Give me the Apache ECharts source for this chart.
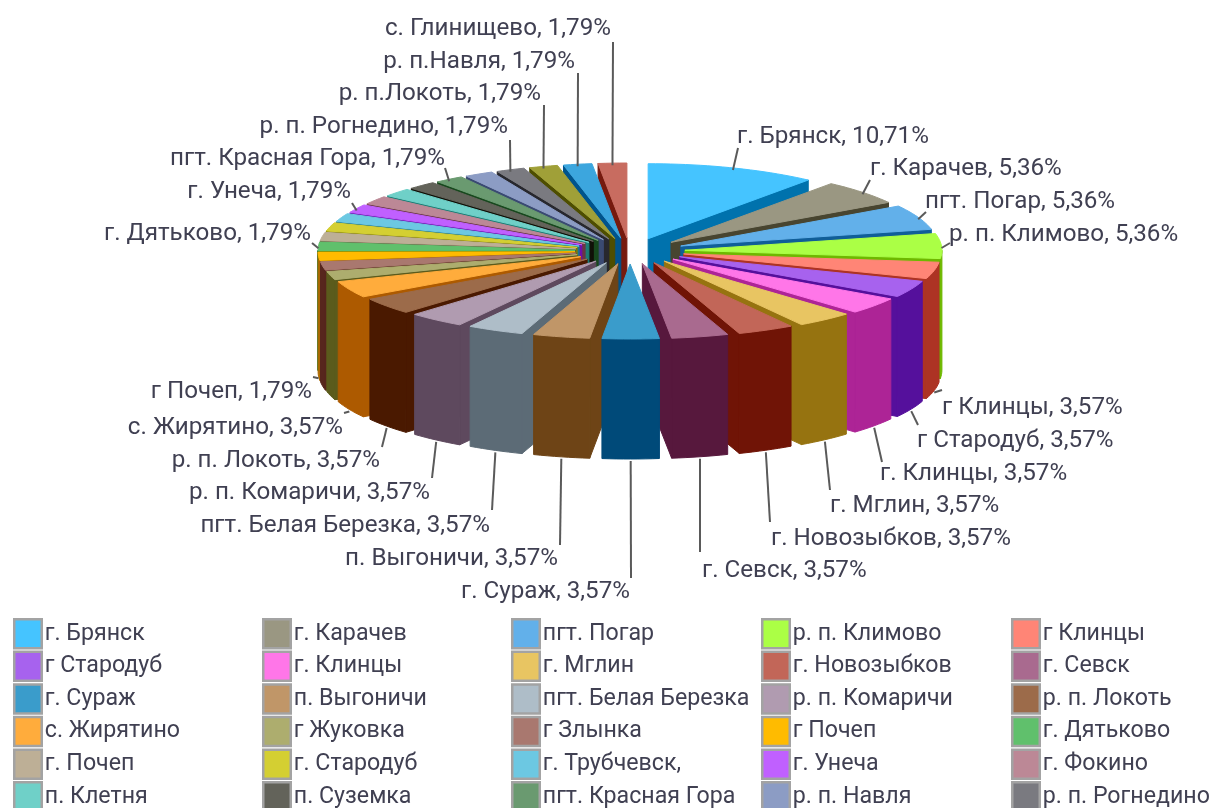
<!DOCTYPE html>
<html>
<head>
<meta charset="utf-8">
<style>
html, body { margin: 0; padding: 0; background: #fff; }
#chart { width: 1213px; height: 808px; }
</style>
<script src="https://cdn.jsdelivr.net/npm/echarts@6/dist/echarts.min.js"></script>
</head>
<body>
<div id="chart"></div>
<script>
const names = [
    'г. Брянск', 'г. Карачев', 'пгт. Погар', 'р. п. Климово', 'г Клинцы',
    'г Стародуб', 'г. Клинцы', 'г. Мглин', 'г. Новозыбков', 'г. Севск',
    'г. Сураж', 'п. Выгоничи', 'пгт. Белая Березка', 'р. п. Комаричи', 'р. п. Локоть',
    'с. Жирятино', 'г Жуковка', 'г Злынка', 'г Почеп', 'г. Дятьково',
    'г. Почеп', 'г. Стародуб', 'г. Трубчевск,', 'г. Унеча', 'г. Фокино',
    'п. Клетня', 'п. Суземка', 'пгт. Красная Гора', 'р. п. Навля', 'р. п. Рогнедино',
    'р. п.Локоть', 'р. п.Навля', 'с. Глинищево'
];
const shares = [
    10.71, 5.36, 5.36, 5.36, 3.57,
    3.57, 3.57, 3.57, 3.57, 3.57,
    3.57, 3.57, 3.57, 3.57, 3.57,
    3.57, 1.79, 1.79, 1.79, 1.79,
    1.79, 1.79, 1.79, 1.79, 1.79,
    1.79, 1.79, 1.79, 1.79, 1.79,
    1.79, 1.79, 1.79
];
const colors = [
    '#45c4ff', '#9a9782', '#62b0ea', '#abff45', '#ff8576',
    '#a762ee', '#ff76e8', '#e8c562', '#c26658', '#a96a8f',
    '#3a9ccb', '#c09668', '#aebdc8', '#b09bb0', '#9c6b4a',
    '#ffac3c', '#adad6e', '#a9786f', '#ffbb00', '#60c06c',
    '#bdaf96', '#d4cf32', '#6cc8e2', '#c060ff', '#bc8896',
    '#6fd0c8', '#63635a', '#6a9a70', '#8c9cc4', '#7a7a80',
    '#a0a038', '#3ca6de', '#c86c60'
];
// slice index, leader end, label anchor, text align
const labelSpots = [
    [0, 738, 148, 737, 137, 'left'],
    [1, 870, 180, 870, 169, 'left'],
    [2, 926, 212, 925, 202, 'left'],
    [3, 950, 243, 949, 235, 'left'],
    [4, 942, 390, 942, 408, 'left'],
    [5, 918, 425, 917, 441, 'left'],
    [6, 882, 462, 880, 474, 'left'],
    [7, 830, 490, 830, 506, 'left'],
    [8, 770, 522, 771, 539, 'left'],
    [9, 700, 552, 702, 571, 'left'],
    [10, 631, 578, 630, 592, 'right'],
    [11, 560, 545, 558, 559, 'right'],
    [12, 492, 510, 490, 526, 'right'],
    [13, 432, 478, 430, 493, 'right'],
    [14, 382, 447, 380, 461, 'right'],
    [15, 344, 413, 343, 428, 'right'],
    [18, 313, 377, 312, 392, 'right'],
    [19, 312, 243, 311, 234, 'right'],
    [23, 352, 203, 351, 192, 'right'],
    [27, 445, 168, 445, 159, 'right'],
    [29, 510, 140, 508, 127, 'right'],
    [30, 544, 105, 541, 94, 'right'],
    [31, 578, 73, 575, 62, 'right'],
    [32, 613, 42, 611, 29, 'right']
];
const legendLeft = [13, 262, 511, 761, 1011];

const pie = { cx: 630, cy: 251, rx: 257, ry: 75, ex: 55, ey: 13, depth: 120 };
const fontFamily = 'Roboto, "Liberation Sans", Arial, sans-serif';
const labelFont = '24.2px ' + fontFamily;
const textColor = '#404052';

const total = shares.reduce((a, b) => a + b, 0);
let run = 0;
const slices = shares.map(v => {
    const from = run / total * Math.PI * 2;
    run += v;
    const to = run / total * Math.PI * 2;
    return { from, to, mid: (from + to) / 2 };
});

// the green one is lit brighter than the rest in the original
function wallColor(i) {
    if (i === 3) return '#6eb800';
    const n = parseInt(colors[i].slice(1), 16);
    const part = s => Math.max(0, ((n >> s) & 255) - 82);
    return `rgb(${part(16)},${part(8)},${part(0)})`;
}
function apex(s) {
    return [pie.cx + pie.ex * Math.sin(s.mid), pie.cy - pie.ey * Math.cos(s.mid)];
}
function rim(s, a, drop) {
    const c = apex(s);
    return [c[0] + pie.rx * Math.sin(a), c[1] - pie.ry * Math.cos(a) + (drop || 0)];
}
function arc(s, from, to, drop) {
    const pts = [];
    const steps = Math.max(2, Math.ceil((to - from) / 0.03));
    for (let i = 0; i <= steps; i++) pts.push(rim(s, from + (to - from) * i / steps, drop));
    return pts;
}
function poly(points, fill) {
    return { type: 'polygon', shape: { points }, style: { fill, stroke: fill, lineWidth: 1 } };
}

function renderSlice(i) {
    const s = slices[i];
    const side = wallColor(i);
    const c = apex(s);
    const children = [];
    const wall = a => {
        const p = rim(s, a, 0);
        return poly([c, p, [p[0], p[1] + pie.depth], [c[0], c[1] + pie.depth]], side);
    };
    if (Math.sin(s.from) < 0) children.push(wall(s.from));
    if (Math.sin(s.to) > 0) children.push(wall(s.to));
    const lo = Math.max(s.from, Math.PI / 2);
    const hi = Math.min(s.to, Math.PI * 1.5);
    if (hi > lo) {
        children.push(poly(arc(s, lo, hi, 0).concat(arc(s, lo, hi, pie.depth).reverse()), side));
    }
    children.push(poly([c].concat(arc(s, s.from, s.to, 0)), colors[i]));
    return { type: 'group', children };
}

function renderLabel(params) {
    const spot = labelSpots[params.dataIndex];
    const i = spot[0];
    const s = slices[i];
    const start = rim(s, s.mid, Math.cos(s.mid) < 0 ? pie.depth : 0);
    return {
        type: 'group',
        children: [
            {
                type: 'line',
                shape: { x1: start[0], y1: start[1] + 2, x2: spot[1], y2: spot[2] },
                style: { stroke: '#5a5a5a', lineWidth: 2 }
            },
            {
                type: 'text',
                style: {
                    text: names[i] + ', ' + shares[i].toFixed(2).replace('.', ',') + '%',
                    x: spot[3],
                    y: spot[4],
                    font: labelFont,
                    fill: textColor,
                    textAlign: spot[5],
                    textVerticalAlign: 'middle'
                }
            }
        ]
    };
}

// back slices get drawn first
const order = slices.map((s, i) => i).sort((a, b) => Math.cos(slices[b].mid) - Math.cos(slices[a].mid));

const series = names.map((name, i) => ({
    type: 'custom',
    name,
    coordinateSystem: 'none',
    z: 2 + order.indexOf(i) / 100,
    silent: true,
    itemStyle: { color: colors[i] },
    data: [[shares[i]]],
    renderItem: () => renderSlice(i)
}));
series.push({
    type: 'custom',
    name: 'labels',
    coordinateSystem: 'none',
    z: 5,
    silent: true,
    data: labelSpots.map(s => [shares[s[0]]]),
    renderItem: renderLabel
});

const legend = legendLeft.map((left, col) => ({
    orient: 'vertical',
    left,
    top: 618,
    height: 240,
    padding: 0,
    itemWidth: 27.5,
    itemHeight: 29,
    itemGap: 1.1,
    icon: 'rect',
    selectedMode: false,
    itemStyle: { borderColor: '#a3a3a3', borderWidth: 2.5 },
    textStyle: { fontFamily, fontSize: 23.2, color: textColor, padding: [0, 0, 0, -2] },
    data: names.slice(0, 30).filter((n, i) => i % 5 === col)
}));

const chart = echarts.init(document.getElementById('chart'), null, { renderer: 'canvas' });
chart.setOption({
    animation: false,
    backgroundColor: '#fff',
    legend,
    series
});
</script>
</body>
</html>
